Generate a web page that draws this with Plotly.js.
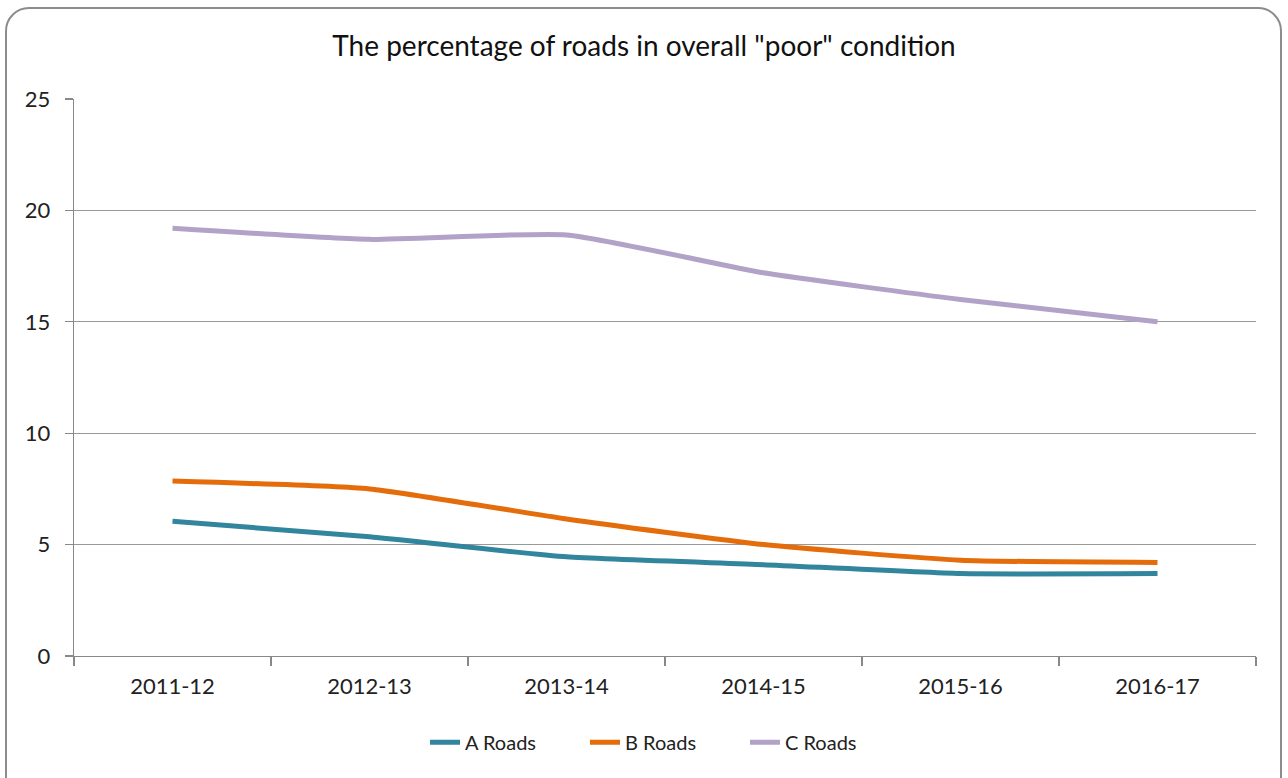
<!DOCTYPE html>
<html>
<head>
<meta charset="utf-8">
<script src="https://cdn.plot.ly/plotly-3.0.1.min.js"></script>
<style>
  html, body { margin: 0; padding: 0; background: #fff; overflow: hidden; }
  #frame { position: absolute; left: 5px; top: 7px; width: 1277px; height: 800px;
           border: 2px solid #8c8c8c; border-radius: 24px; box-sizing: border-box; }
  #chart { position: absolute; left: 0; top: 0; width: 1288px; height: 778px; }
</style>
</head>
<body>
<div id="frame"></div>
<div id="chart"></div>
<script>
const categories = ["2011-12", "2012-13", "2013-14", "2014-15", "2015-16", "2016-17"];
const aRoads = [6.05, 5.35, 4.45, 4.1, 3.7, 3.7];
const bRoads = [7.85, 7.5, 6.15, 5.0, 4.3, 4.2];
const cRoads = [19.2, 18.7, 18.9, 17.2, 16.0, 15.0];
const seriesNames = ["A Roads", "B Roads", "C Roads"];
const yTicks = [0, 5, 10, 15, 20, 25];

const font = "Lato, 'Open Sans', sans-serif";
const colors = ["#31859C", "#E46C0A", "#B3A2C7"];
const values = [aRoads, bRoads, cRoads];

const traces = values.map((v, i) => ({
  x: categories, y: v, name: seriesNames[i], type: "scatter", mode: "lines",
  line: { color: colors[i], width: 5, shape: "spline", smoothing: 0.5 }
}));

const layout = {
  width: 1288, height: 778,
  margin: { l: 74, r: 32, t: 99, b: 122 },
  paper_bgcolor: "rgba(0,0,0,0)", plot_bgcolor: "rgba(0,0,0,0)",
  font: { family: font, color: "#222" },
  title: { text: 'The percentage of roads in overall "poor" condition',
           font: { family: font, size: 28, color: "#111" },
           x: 0.5, xanchor: "center", y: 0.94, yanchor: "middle" },
  xaxis: {
    type: "category", range: [-0.5, 5.5], tickson: "boundaries",
    ticks: "outside", ticklen: 9, tickcolor: "#888", tickwidth: 1.3,
    showline: true, linecolor: "#888", linewidth: 1.3,
    showgrid: false, zeroline: false,
    tickfont: { family: font, size: 22, color: "#222" }, ticklabelstandoff: 10
  },
  yaxis: {
    range: [0, 25], tickvals: yTicks, ticktext: yTicks.map(String),
    ticks: "outside", ticklen: 8, tickcolor: "#888", tickwidth: 1.3,
    showline: true, linecolor: "#888", linewidth: 1.3,
    showgrid: true, gridcolor: "#999", gridwidth: 1.3, zeroline: false,
    tickfont: { family: font, size: 22, color: "#222" }, ticklabelstandoff: 10
  },
  legend: {
    orientation: "h", x: 0.5, xanchor: "center", y: -0.155, yanchor: "middle",
    font: { family: font, size: 20, color: "#222" }, itemwidth: 30, tracegroupgap: 0,
    entrywidth: 115, entrywidthmode: "pixels"
  },
  showlegend: true
};

Plotly.newPlot("chart", traces, layout, { displayModeBar: false, staticPlot: true });
</script>
</body>
</html>
